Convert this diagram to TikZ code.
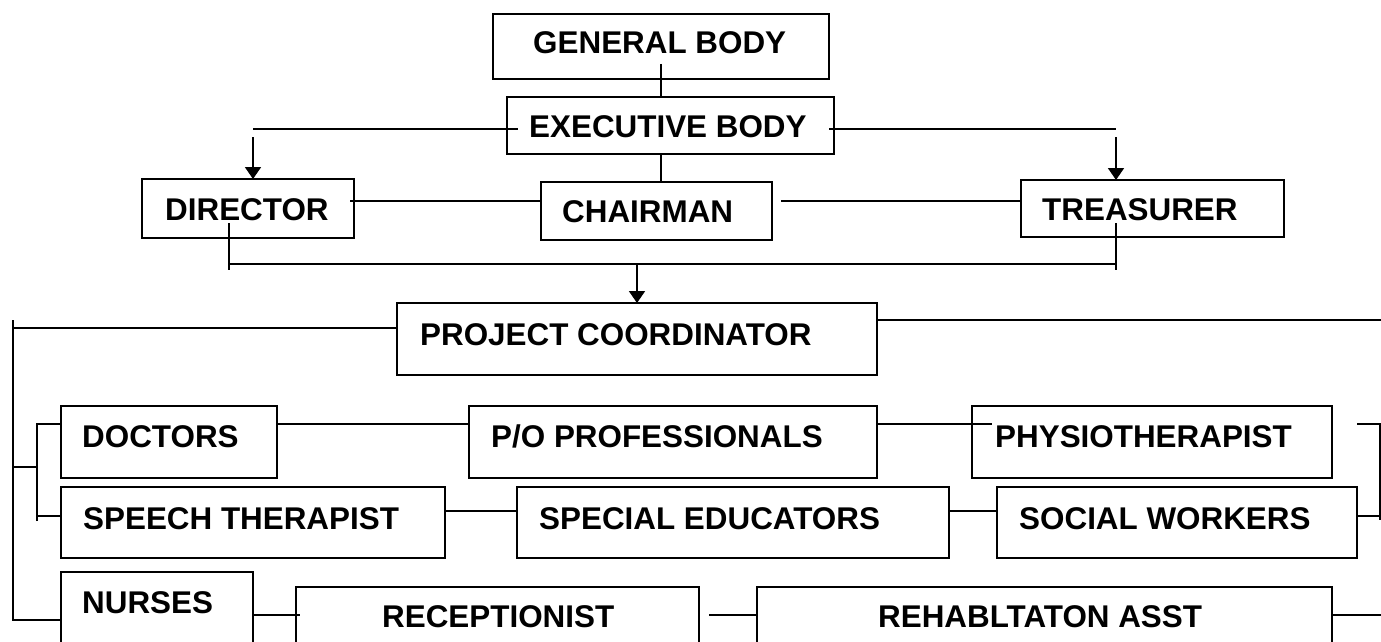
\documentclass[tikz,border=0pt]{standalone}
\usepackage{fontspec}
\setmainfont{Liberation Sans}
\usetikzlibrary{arrows.meta}
\newcommand\orgbox[5]{\node[orgbx, minimum width={#4-#2}, minimum height={#5-#3}] (#1) at ({(#2+#4)/2},{(#3+#5)/2}) {};}
\begin{document}
\begin{tikzpicture}[x=1pt,y=-1pt,
  orgbx/.style={draw, line width=1.8pt, inner sep=0pt, outer sep=0pt},
  lbl/.style={inner sep=0pt, anchor=base west, font=\fontsize{31.4}{36}\selectfont\bfseries},
  conn/.style={line width=1.8pt},
  arr/.style={line width=1.8pt, -{Triangle[length=12pt,width=16pt]}}]
\clip (0,0) rectangle (1381,642);
\fill[white] (0,0) rectangle (1381,642);
% boxes
\orgbox{gb}{493}{14}{829}{79}
\orgbox{eb}{507}{97}{834}{154}
\orgbox{dir}{142}{179}{354}{238}
\orgbox{chair}{541}{182}{772}{240}
\orgbox{treas}{1021}{180}{1284}{237}
\orgbox{pc}{397}{303}{877}{375}
\orgbox{doc}{61}{406}{277}{478}
\orgbox{po}{469}{406}{877}{478}
\orgbox{phys}{972}{406}{1332}{478}
\orgbox{speech}{61}{487}{445}{558}
\orgbox{spec}{517}{487}{949}{558}
\orgbox{social}{997}{487}{1357}{558}
\orgbox{nurses}{61}{572}{253}{670}
\orgbox{recep}{296}{587}{699}{670}
\orgbox{rehab}{757}{587}{1332}{670}
% labels
\node[lbl] (tgb) at (533,53) {GENERAL BODY};
\node[lbl] (teb) at (529,137) {EXECUTIVE BODY};
\node[lbl] (tdir) at (165,220) {DIRECTOR};
\node[lbl] (tchair) at (562,222) {CHAIRMAN};
\node[lbl] (ttreas) at (1042,220) {TREASURER};
\node[lbl] (tpc) at (420,345) {PROJECT COORDINATOR};
\node[lbl] (tdoc) at (82,447) {DOCTORS};
\node[lbl] (tpo) at (491,447) {P/O PROFESSIONALS};
\node[lbl] (tphys) at (995,447) {PHYSIOTHERAPIST};
\node[lbl] (tspeech) at (83,529) {SPEECH THERAPIST};
\node[lbl] (tspec) at (539,529) {SPECIAL EDUCATORS};
\node[lbl] (tsocial) at (1019,529) {SOCIAL WORKERS};
\node[lbl] (tnurses) at (82,613) {NURSES};
\node[lbl] (trecep) at (382,627) {RECEPTIONIST};
\node[lbl] (trehab) at (878,627) {REHABLTATON ASST};
% free ends
\coordinate (gbIn) at (661,64);
\coordinate (ebL) at (253,129);
\coordinate (ebLd) at (253,137);
\coordinate (ebR) at (1116,129);
\coordinate (ebRd) at (1116,137);
\coordinate (dirD) at (229,223);
\coordinate (treasD) at (1116,223);
\coordinate (busL) at (229,264);
\coordinate (busR) at (1116,264);
\coordinate (busM) at (637,264);
\coordinate (spineT) at (13,320);
\coordinate (spineB) at (13,620);
\coordinate (edgeR) at (1381,320);
\coordinate (brT) at (37,424);
\coordinate (brB) at (37,521);
\coordinate (rbT) at (1380,424);
\coordinate (rbB) at (1380,520);
% connectors, top part
\draw[conn] (gbIn) -- (gbIn |- eb.north);
\draw[conn] (ebL) -- ([xshift=11pt]eb.west |- ebL);
\draw[conn] ([xshift=-5pt]eb.east |- ebR) -- (ebR);
\draw[arr] (ebLd) -- (ebLd |- dir.north);
\draw[arr] (ebRd) -- (ebRd |- treas.north);
\draw[conn] (gbIn |- eb.south) -- (gbIn |- chair.north);
\draw[conn] ([xshift=-4pt]dir.east |- 0,201) -- (chair.west |- 0,201);
\draw[conn] ([xshift=9pt]chair.east |- 0,201) -- (treas.west |- 0,201);
\draw[conn] (dirD) -- (229,270);
\draw[conn] (treasD) -- (1116,270);
\draw[conn] (busL) -- (busR);
\draw[arr] (busM) -- (busM |- pc.north);
% project coordinator branches
\draw[conn] (pc.west |- 0,328) -- (spineT |- 0,328);
\draw[conn] (spineT) -- (spineB) -- (spineB -| nurses.west);
\draw[conn] (pc.east |- edgeR) -- (edgeR);
\draw[conn] (13,467) -- (37,467);
\draw[conn] (brB) -- (brT) -- (brT -| doc.west);
\draw[conn] (37,516) -- (speech.west |- 0,516);
% rows
\draw[conn] (doc.east |- 0,424) -- (po.west |- 0,424);
\draw[conn] (po.east |- 0,424) -- ([xshift=20pt]phys.west |- 0,424);
\draw[conn] ([xshift=25pt]phys.east |- rbT) -- (rbT) -- (rbB);
\draw[conn] (speech.east |- 0,511) -- (spec.west |- 0,511);
\draw[conn] (spec.east |- 0,511) -- (social.west |- 0,511);
\draw[conn] (social.east |- 0,516) -- (1381,516);
\draw[conn] (nurses.east |- 0,615) -- ([xshift=4pt]recep.west |- 0,615);
\draw[conn] ([xshift=10pt]recep.east |- 0,615) -- (rehab.west |- 0,615);
\draw[conn] (rehab.east |- 0,615) -- (1381,615);
\end{tikzpicture}
\end{document}
